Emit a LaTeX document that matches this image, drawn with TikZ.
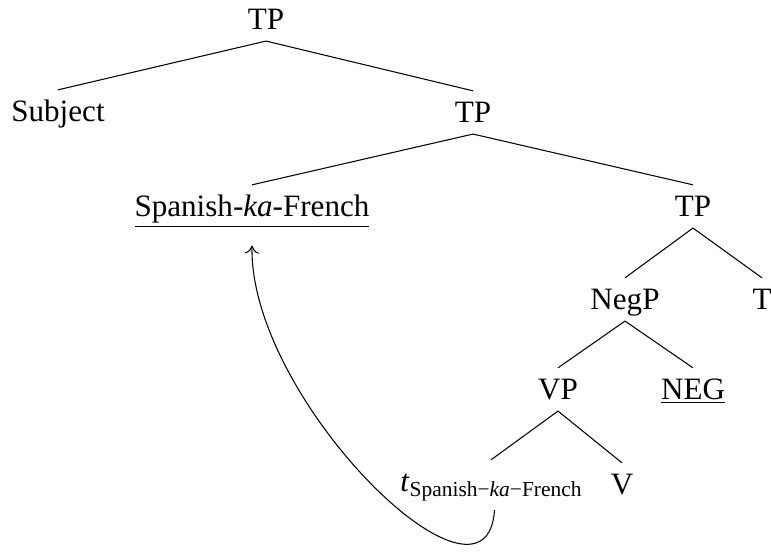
\documentclass[tikz,border=0pt]{standalone}
\usepackage{fontspec}
\setmainfont{Liberation Serif}
\usetikzlibrary{arrows.meta}
\begin{document}
\begin{tikzpicture}[x=0.02cm, y=-0.02cm,
    lbl/.style={anchor=base, inner xsep=0pt, inner ysep=6pt, text height=12pt, text depth=0pt,
                font=\fontsize{17.7}{20}\selectfont},
    >={To[length=4.5pt, width=8pt]}, line width=0.6pt]
            \useasboundingbox (0,0) rectangle (771,553);

            \node[lbl] (TA) at (266, 30) {TP};

            \node[lbl] (SB) at (58, 122) {Subject};
            \node[lbl] (TB) at (473, 123) {TP};

            \draw (TA.south) -- (SB.north);
            \draw (TA.south) -- (TB.north);

            \node[lbl] (SK) at (252, 217) {\underline{Spanish-\textit{ka}-French}};
            \node[lbl] (TC) at (693, 217) {TP};

            \draw (TB.south) -- (SK.north);
            \draw (TB.south) -- (TC.north);

            \node[lbl] (NP) at (625, 310) {NegP};
            \node[lbl] (T) at (762, 310) {T};

            \draw (TC.south) -- (NP.north);
            \draw (TC.south) -- (T.north);

            \node[lbl] (VP) at (558, 400) {VP};
            \node[lbl] (NG) at (693, 400) {\underline{NEG}};

            \draw (NP.south) -- (VP.north);
            \draw (NP.south) -- (NG.north);

            \node[lbl] (TR) at (491, 492) {\textit{t}\raisebox{-2.5pt}{\fontsize{12.2}{14}\selectfont Spanish−\textit{ka}−French}};
            \node[lbl] (V) at (622, 495) {V};

            \draw (VP.south) -- (TR.north);
            \draw (VP.south) -- (V.north);

            % movement of the coordinated phrase
            \draw[->] ([xshift=2pt, yshift=-4pt]TR.south) .. controls +(-8, 122) and +(-3, 155) .. ([yshift=-10pt]SK.south);
\end{tikzpicture}
\end{document}
